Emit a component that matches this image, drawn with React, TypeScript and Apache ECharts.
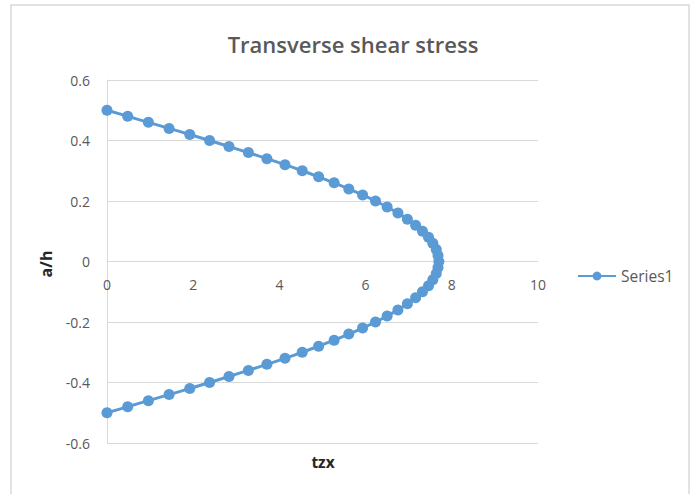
import React, { useEffect, useRef } from "react";
import * as echarts from "echarts";

// a/h positions through the thickness (top to bottom)
const aH: number[] = [
  0.5, 0.48, 0.46, 0.44, 0.42, 0.4, 0.38, 0.36, 0.34, 0.32, 0.3, 0.28, 0.26,
  0.24, 0.22, 0.2, 0.18, 0.16, 0.14, 0.12, 0.1, 0.08, 0.06, 0.04, 0.02, 0,
  -0.02, -0.04, -0.06, -0.08, -0.1, -0.12, -0.14, -0.16, -0.18, -0.2, -0.22,
  -0.24, -0.26, -0.28, -0.3, -0.32, -0.34, -0.36, -0.38, -0.4, -0.42, -0.44,
  -0.46, -0.48, -0.5,
];

// transverse shear stress tzx at each a/h
const tzx: number[] = [
  0, 0.48, 0.96, 1.44, 1.92, 2.38, 2.83, 3.28, 3.71, 4.13, 4.53, 4.91, 5.27,
  5.61, 5.93, 6.23, 6.5, 6.75, 6.97, 7.16, 7.32, 7.46, 7.56, 7.64, 7.68, 7.7,
  7.68, 7.64, 7.56, 7.46, 7.32, 7.16, 6.97, 6.75, 6.5, 6.23, 5.93, 5.61, 5.27,
  4.91, 4.53, 4.13, 3.71, 3.28, 2.83, 2.38, 1.92, 1.44, 0.96, 0.48, 0,
];

const seriesName = "Series1";
const titleText = "Transverse shear stress";
const xAxisTitle = "tzx";
const yAxisTitle = "a/h";

const FONT = "'Open Sans', 'Noto Sans', sans-serif";
const BLUE = "#5b9bd5";
const GREY = "#595959";
const RULE = "#d9d9d9";

const GRID_TOP = 80;
const GRID_BOTTOM = 51;
const CHART_H = 494;

export default function App() {
  const ref = useRef<HTMLDivElement>(null);

  useEffect(() => {
    if (!ref.current) return;
    const chart = echarts.init(ref.current, undefined, { renderer: "svg" });
    const points = tzx.map((x, i) => [x, aH[i]]);

    // the horizontal axis sits on the a/h = 0 line, halfway up the plot
    const plotH = CHART_H - GRID_TOP - GRID_BOTTOM;
    const zeroOffset = -plotH / 2;

    chart.setOption({
      animation: false,
      backgroundColor: "#ffffff",
      textStyle: { fontFamily: FONT },
      title: {
        text: titleText,
        left: 348,
        textAlign: "center",
        top: 28,
        textStyle: {
          fontFamily: FONT,
          fontSize: 22,
          fontWeight: 600,
          color: GREY,
        },
      },
      legend: {
        data: [seriesName],
        left: 572,
        top: 263,
        itemWidth: 38,
        itemHeight: 11,
        itemGap: 4,
        textStyle: { fontFamily: FONT, fontSize: 15.5, color: GREY },
      },
      grid: { left: 107, right: 156, top: GRID_TOP, bottom: GRID_BOTTOM },
      xAxis: {
        type: "value",
        min: 0,
        max: 10,
        interval: 2,
        position: "bottom",
        offset: zeroOffset,
        axisLine: { show: true, onZero: false, lineStyle: { color: RULE, width: 1 } },
        axisTick: { show: false },
        splitLine: { show: false },
        axisLabel: {
          color: GREY,
          fontSize: 14,
          margin: 16,
          fontFamily: FONT,
        },
      },
      yAxis: {
        type: "value",
        min: -0.6,
        max: 0.6,
        interval: 0.2,
        axisLine: { show: true, onZero: false, lineStyle: { color: RULE, width: 1 } },
        axisTick: { show: false },
        splitLine: { show: true, lineStyle: { color: RULE, width: 1 } },
        axisLabel: {
          color: GREY,
          fontSize: 14,
          margin: 17,
          fontFamily: FONT,
          formatter: (v: number) => {
            const r = Math.round(v * 10) / 10;
            return r === 0 ? "0" : String(r);
          },
        },
      },
      series: [
        {
          name: seriesName,
          type: "line",
          data: points,
          smooth: 0.3,
          symbol: "circle",
          symbolSize: 11,
          showSymbol: true,
          lineStyle: { color: BLUE, width: 3 },
          itemStyle: { color: BLUE },
        },
      ],
      graphic: [
        {
          type: "rect",
          shape: { x: 11, y: 5, width: 678, height: 500 },
          style: { fill: "none", stroke: RULE, lineWidth: 1.5 },
          silent: true,
        },
        {
          type: "text",
          x: 323,
          y: 462,
          style: {
            text: xAxisTitle,
            fontFamily: FONT,
            fontSize: 15.5,
            fontWeight: "bold",
            fill: "#262626",
            align: "center",
            verticalAlign: "middle",
          },
        },
        {
          type: "text",
          x: 46,
          y: 264,
          rotation: Math.PI / 2,
          style: {
            text: yAxisTitle,
            fontFamily: FONT,
            fontSize: 16,
            fontWeight: "bold",
            fill: "#262626",
            align: "center",
            verticalAlign: "middle",
          },
        },
      ],
    });

    return () => chart.dispose();
  }, []);

  return (
    <div
      ref={ref}
      style={{ position: "fixed", left: 0, top: 0, width: 694, height: 494 }}
    />
  );
}
